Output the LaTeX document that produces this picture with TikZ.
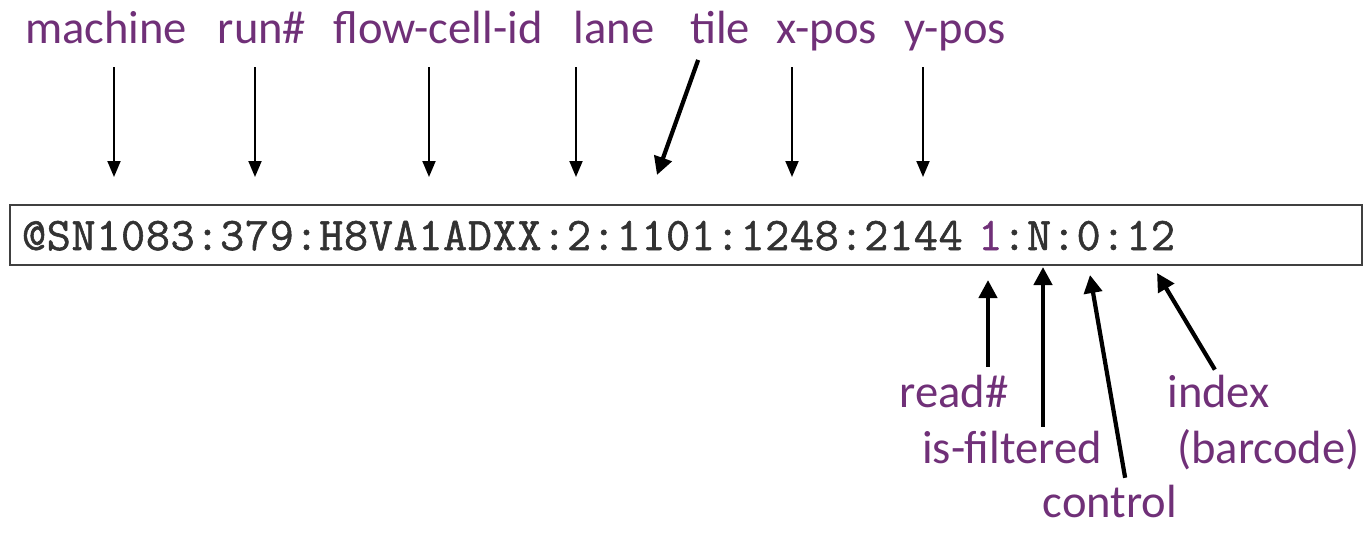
\documentclass[tikz,border=0pt]{standalone}
\usepackage{fontspec}
\usetikzlibrary{arrows.meta}
\newfontfamily\labelfont{Carlito}
\newfontfamily\seqfont[FakeBold=1.2, LetterSpace=1.5]{Latin Modern Mono}
\definecolor{labelpurple}{RGB}{112,48,120}
\definecolor{seqgray}{RGB}{50,50,50}

\begin{document}
\begin{tikzpicture}[
  field/.style={anchor=base, inner sep=0pt, text height=0.62cm, text depth=0.2cm,
    text=labelpurple, font=\labelfont\fontsize{26.5}{32}\selectfont},
  thin pointer/.style={-{Triangle[width=0.26cm,length=0.32cm]}, line width=1.1pt},
  thick pointer/.style={-{Triangle[width=0.36cm,length=0.36cm]}, line width=2.4pt},
  readbox/.style={draw=black!75, line width=1.6pt, minimum width=27.04cm, minimum height=1.2cm,
    text width=26.56cm, inner xsep=0.24cm, inner ysep=0pt, align=left,
    text height=0.62cm, text depth=0.02cm,
    text=seqgray, font=\seqfont\fontsize{26.6}{30}\selectfont}
]
  \useasboundingbox (0,0) rectangle (27.36,10.64);

  \node[readbox] (header) at (13.72, 5.94)
    {@SN1083:379:H8VA1ADXX:2:1101:1248:2144 {\color{labelpurple}1}:N:0:12};

  \node[field] (machine) at (2.12, 9.78) {machine};
  \node[field] (run) at (5.24, 9.78) {run\#};
  \node[field] (flowcell) at (8.76, 9.78) {flow-cell-id};
  \node[field] (lane) at (12.28, 9.78) {lane};
  \node[field] (tile) at (14.40, 9.78) {tile};
  \node[field] (xpos) at (16.54, 9.78) {x-pos};
  \node[field] (ypos) at (19.10, 9.78) {y-pos};

  \node[field] (read) at (19.08, 2.50) {read\#};
  \node[field] (filtered) at (20.24, 1.38) {is-filtered};
  \node[field] (control) at (22.20, 0.30) {control};
  \node[field, anchor=base west] (index) at (23.34, 2.50) {index};
  \node[field, anchor=base west] (barcode) at (23.54, 1.38) {(barcode)};

  \coordinate (machine-tip) at (2.28, 7.10);
  \coordinate (run-tip) at (5.10, 7.10);
  \coordinate (flowcell-tip) at (8.58, 7.10);
  \coordinate (lane-tip) at (11.52, 7.10);
  \coordinate (tile-tip) at (13.14, 7.14);
  \coordinate (xpos-tip) at (15.84, 7.10);
  \coordinate (ypos-tip) at (18.46, 7.10);
  \coordinate (read-tip) at (19.76, 5.04);
  \coordinate (filtered-tip) at (20.86, 5.30);
  \coordinate (control-tip) at (21.80, 5.14);
  \coordinate (index-tip) at (23.14, 5.18);

  \draw[thin pointer, shorten <=0.28cm] (machine.south -| machine-tip) -- (machine-tip);
  \draw[thin pointer, shorten <=0.28cm] (run.south -| run-tip) -- (run-tip);
  \draw[thin pointer, shorten <=0.28cm] (flowcell.south -| flowcell-tip) -- (flowcell-tip);
  \draw[thin pointer, shorten <=0.28cm] (lane.south -| lane-tip) -- (lane-tip);
  \draw[thick pointer, shorten <=0.14cm] ([xshift=-0.39cm]tile.south) -- (tile-tip);
  \draw[thin pointer, shorten <=0.28cm] (xpos.south -| xpos-tip) -- (xpos-tip);
  \draw[thin pointer, shorten <=0.28cm] (ypos.south -| ypos-tip) -- (ypos-tip);

  \draw[thick pointer, shorten <=0.18cm] (read.north -| read-tip) -- (read-tip);
  \draw[thick pointer, shorten <=0.10cm] (filtered.north -| filtered-tip) -- (filtered-tip);
  \draw[thick pointer, shorten <=0.16cm] ([xshift=0.33cm]control.north) -- (control-tip);
  \draw[thick pointer, shorten <=0.14cm] (index.north) -- (index-tip);
\end{tikzpicture}
\end{document}
